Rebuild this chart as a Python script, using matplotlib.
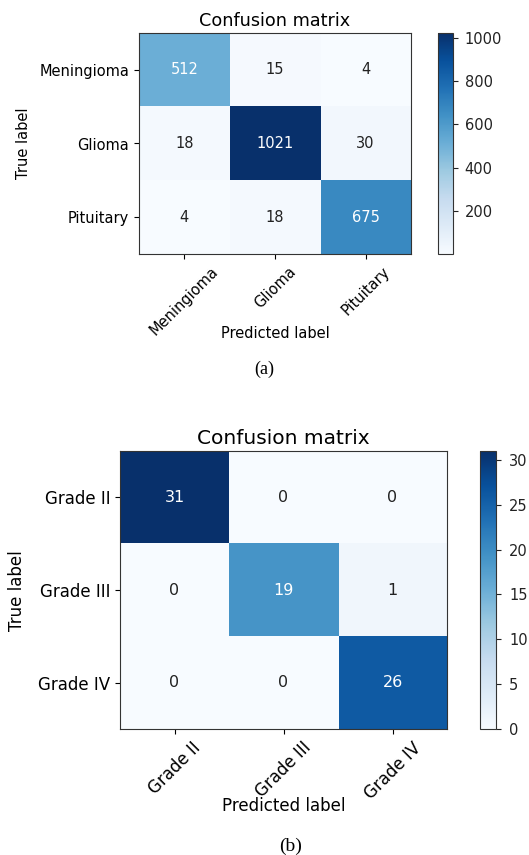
import numpy as np
import matplotlib
matplotlib.use("Agg")
import matplotlib.pyplot as plt

# tumour type classifier
classes_a = ["Meningioma", "Glioma", "Pituitary"]
cm_a = np.array([[512, 15, 4],
                 [18, 1021, 30],
                 [4, 18, 675]])

# glioma grade classifier
classes_b = ["Grade II", "Grade III", "Grade IV"]
cm_b = np.array([[31, 0, 0],
                 [0, 19, 1],
                 [0, 0, 26]])

W, H = 529, 855
fig = plt.figure(figsize=(W / 100, H / 100), dpi=100)


def box(left, top, right, bottom):
    # pixel box -> figure fraction rect
    return [left / W, 1 - bottom / H, (right - left) / W, (bottom - top) / H]


def draw_cm(cm, classes, ax_px, cax_px, fs_tick, fs_title, fs_num, fs_cb, cb_pad,
            ylab_xy, xlab_y, cap, cap_xy, fs_cap):
    ax = fig.add_axes(box(*ax_px))
    cax = fig.add_axes(box(*cax_px))
    im = ax.imshow(cm, cmap="Blues", aspect="auto", interpolation="nearest")
    cb = fig.colorbar(im, cax=cax)
    cb.ax.tick_params(labelsize=fs_cb, colors="#222222", pad=cb_pad)
    cb.outline.set_edgecolor("#333333")
    ax.set_title("Confusion matrix", fontsize=fs_title, pad=5)
    ticks = np.arange(len(classes))
    ax.set_xticks(ticks)
    ax.set_xticklabels(classes, rotation=45, fontsize=fs_tick)
    ax.set_yticks(ticks)
    ax.set_yticklabels(classes, fontsize=fs_tick)
    for s in ax.spines.values():
        s.set_edgecolor("#333333")
    thresh = cm.max() / 2.0
    for i in range(cm.shape[0]):
        for j in range(cm.shape[1]):
            ax.text(j, i, format(cm[i, j], "d"), ha="center", va="center", fontsize=fs_num,
                    color="white" if cm[i, j] > thresh else "#222222")
    fig.text(ylab_xy[0] / W, 1 - ylab_xy[1] / H, "True label", rotation=90,
             ha="center", va="center", fontsize=fs_tick)
    xc = (ax_px[0] + ax_px[2]) / 2
    fig.text(xc / W, 1 - xlab_y / H, "Predicted label", ha="center", va="center", fontsize=fs_tick)
    fig.text(cap_xy[0] / W, 1 - cap_xy[1] / H, cap, ha="center", va="center",
             fontsize=fs_cap, family="Liberation Serif")


draw_cm(cm_a, classes_a, (139, 33, 411, 254), (438, 33, 453, 254),
        10.5, 12.7, 10.5, 10.5, 5, (23, 143), 333, "(a)", (264, 369), 13)
draw_cm(cm_b, classes_b, (120, 451, 447, 729), (480, 451, 496, 729),
        12, 14.5, 11.5, 10.5, 6, (17, 591), 806, "(b)", (291, 846), 14)

fig.savefig("out.png", dpi=100, facecolor="white")
